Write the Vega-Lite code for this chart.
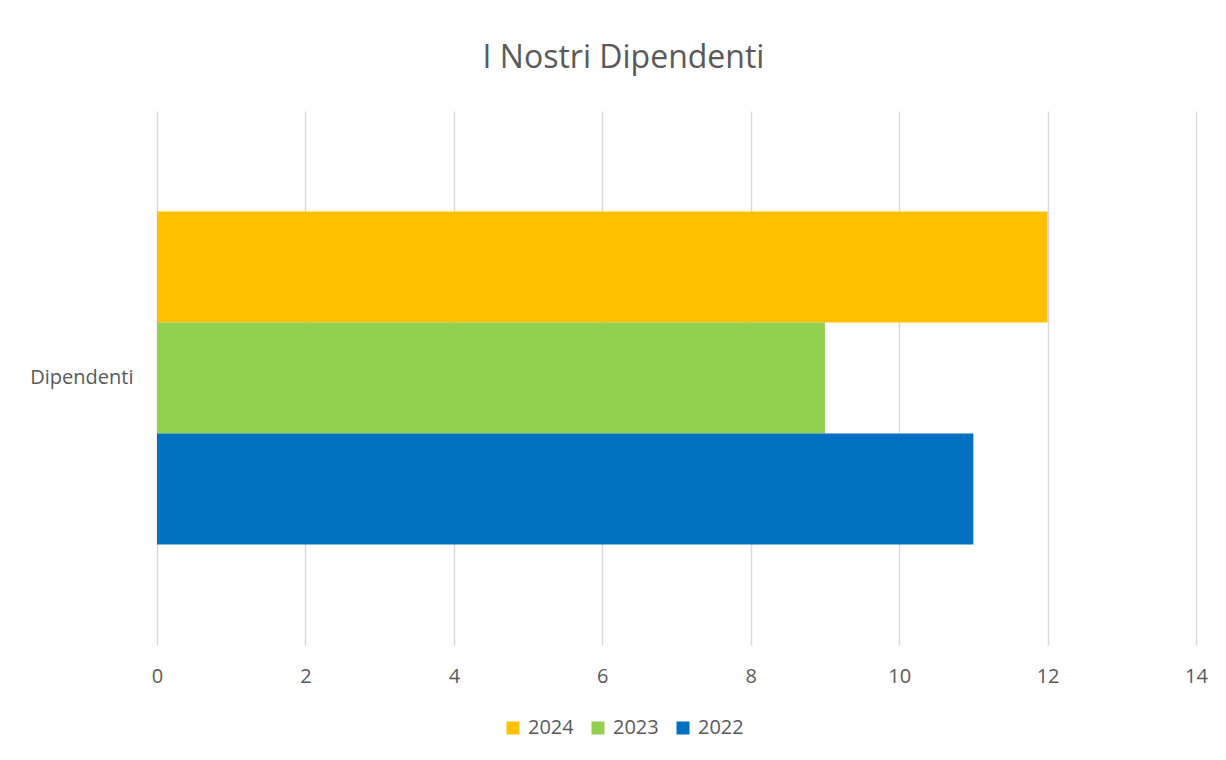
{
  "$schema": "https://vega.github.io/schema/vega-lite/v6.json",
  "width": 1039,
  "height": 534,
  "autosize": "none",
  "padding": {"left": 157, "top": 111, "right": 30, "bottom": 115},
  "background": "white",
  "title": {
    "text": "I Nostri Dipendenti",
    "font": "Open Sans",
    "fontSize": 32,
    "fontWeight": "normal",
    "color": "#595959",
    "anchor": "middle",
    "dx": -53,
    "offset": 36
  },
  "data": {
    "values": [
      {"categoria": "Dipendenti", "anno": "2024", "valore": 12},
      {"categoria": "Dipendenti", "anno": "2023", "valore": 9},
      {"categoria": "Dipendenti", "anno": "2022", "valore": 11}
    ]
  },
  "mark": {"type": "bar"},
  "encoding": {
    "y": {
      "field": "categoria",
      "type": "nominal",
      "title": null,
      "scale": {"paddingInner": 0, "paddingOuter": 0.302},
      "axis": {
        "domain": false,
        "ticks": false,
        "labelFont": "Open Sans",
        "labelFontSize": 20,
        "labelColor": "#595959",
        "labelPadding": 24
      }
    },
    "yOffset": {
      "field": "anno",
      "type": "nominal",
      "scale": {"domain": ["2024", "2023", "2022"], "paddingInner": 0, "paddingOuter": 0}
    },
    "x": {
      "field": "valore",
      "type": "quantitative",
      "title": null,
      "scale": {"domain": [0, 14], "nice": false},
      "axis": {
        "values": [0, 2, 4, 6, 8, 10, 12, 14],
        "domain": false,
        "ticks": false,
        "grid": true,
        "gridColor": "#d9d9d9",
        "gridWidth": 1.5,
        "labelFlush": false,
        "labelFont": "Open Sans",
        "labelFontSize": 20,
        "labelColor": "#595959",
        "labelPadding": 21
      }
    },
    "color": {
      "field": "anno",
      "type": "nominal",
      "scale": {"domain": ["2024", "2023", "2022"], "range": ["#FFC000", "#92D050", "#0070C0"]},
      "legend": {
        "title": null,
        "orient": "none",
        "direction": "horizontal",
        "legendX": 346,
        "legendY": 607,
        "symbolType": "square",
        "symbolSize": 169,
        "symbolStrokeWidth": 0,
        "labelFont": "Open Sans",
        "labelFontSize": 20,
        "labelColor": "#595959",
        "columnPadding": 14,
        "labelOffset": 5
      }
    }
  },
  "config": {
    "view": {"stroke": null}
  }
}
